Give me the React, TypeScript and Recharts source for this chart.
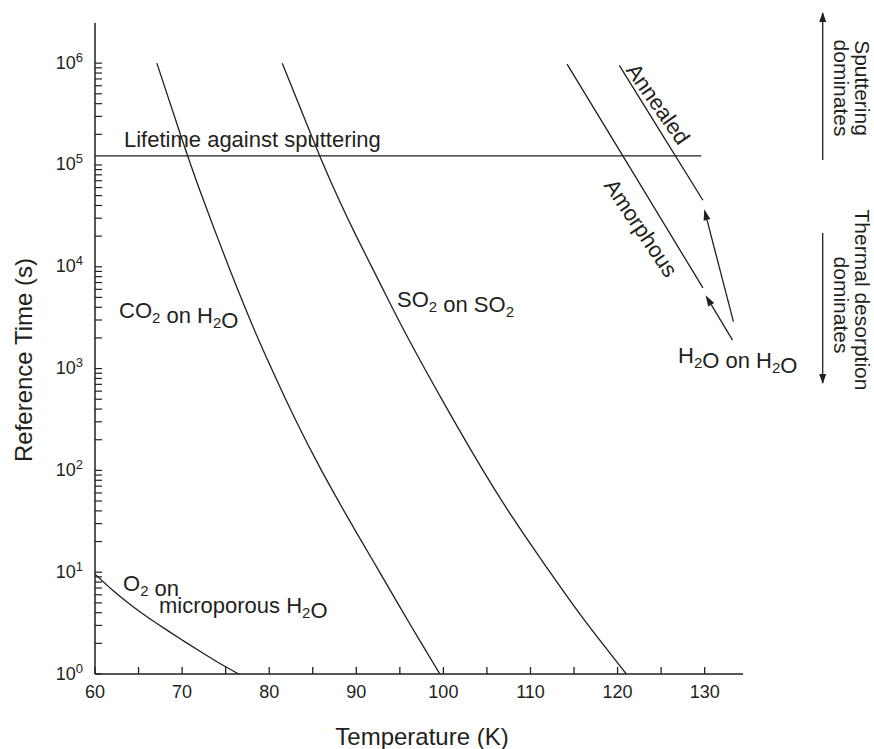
import { LineChart, Line, XAxis, YAxis, ReferenceLine } from 'recharts'

const INK = '#231f20'
const FONT = '"Liberation Sans", Arial, Helvetica, sans-serif'

// temperature (K) / reference time (s)
const o2Temps = [60, 62, 64, 66, 68, 70, 72, 74, 76.5]
const o2Times = [9.55, 6.68, 4.84, 3.63, 2.79, 2.16, 1.68, 1.32, 1.0]

const co2Temps = [67.1, 70, 72, 74, 76, 78, 80, 83, 86, 89, 92, 95, 97, 99.6]
const co2Times = [1.0e6, 1.78e5, 5.75e4, 2.0e4, 7.24e3, 2.75e3, 1.12e3, 316, 100, 34.7, 12.6, 4.57, 2.34, 1.0]

const so2Temps = [81.5, 84, 86, 88, 90, 93, 96, 100, 104, 108, 112, 116, 121]
const so2Times = [1.0e6, 2.95e5, 1.12e5, 4.57e4, 2.0e4, 6.17e3, 1.95e3, 468, 120, 33.9, 10.7, 3.55, 1.0]

const amorphousTemps = [114.2, 122, 129.8]
const amorphousTimes = [9.8e5, 7.8e4, 6.2e3]

const annealedTemps = [120.2, 125, 129.8]
const annealedTimes = [9.5e5, 2.07e5, 4.5e4]

const lifetimeTemps = [60, 129.6]
const lifetimeTimes = [1.23e5, 1.23e5]

// H2O on H2O pointer arrows: [from, to] as [temp, time]
const arrowAmorphous = [[133.2, 1905], [130.1, 5250]]
const arrowAnnealed = [[133.3, 2890], [129.95, 36700]]

const xTicks = [60, 65, 70, 75, 80, 85, 90, 95, 100, 105, 110, 115, 120, 125, 130]
const yTicks: number[] = []
for (let n = 0; n < 6; n++) for (let k = 1; k < 10; k++) yTicks.push(k * Math.pow(10, n))
yTicks.push(1e6)

const zip = (ts: number[], vs: number[]) => ts.map((t, i) => ({ t, v: vs[i] }))

const XTick = (p: any) => {
  const v = p.payload.value
  return (
    <g>
      <line x1={p.x} x2={p.x} y1={p.y} y2={p.y - 7} stroke={INK} strokeWidth={1.3} />
      {v % 10 === 0 && (
        <text x={p.x} y={p.y + 24} textAnchor="middle" fontSize={18} fill={INK} fontFamily={FONT}>{v}</text>
      )}
    </g>
  )
}

const YTick = (p: any) => {
  const v = p.payload.value
  const e = Math.round(Math.log10(v))
  const major = Math.abs(Math.pow(10, e) - v) < 1e-6 * v
  return (
    <g>
      <line x1={p.x} x2={p.x + 7} y1={p.y} y2={p.y} stroke={INK} strokeWidth={1.2} />
      {major && (
        <text x={p.x - 12} y={p.y + 5.5} textAnchor="end" fontSize={18} fill={INK} fontFamily={FONT}>
          10<tspan dy={-7} fontSize={13}>{e}</tspan>
        </text>
      )}
    </g>
  )
}

const ArrowShape = (p: any) => {
  const { x1, y1, x2, y2 } = p
  const a = Math.atan2(y2 - y1, x2 - x1)
  const L = 11, W = 3.5
  const bx = x2 - L * Math.cos(a), by = y2 - L * Math.sin(a)
  const px = -Math.sin(a) * W, py = Math.cos(a) * W
  return (
    <g>
      <line x1={x1} y1={y1} x2={bx} y2={by} stroke={INK} strokeWidth={1.3} />
      <polygon points={`${x2},${y2} ${bx + px},${by + py} ${bx - px},${by - py}`} fill={INK} />
    </g>
  )
}

const Sub = ({ children }: { children: string }) => (
  <>
    <tspan dy={5} fontSize={15}>{children}</tspan>
    <tspan dy={-5}>{''}</tspan>
  </>
)

export default function App() {
  const W = 874, H = 749
  const series = [
    { key: 'o2', data: zip(o2Temps, o2Times), type: 'natural' },
    { key: 'co2', data: zip(co2Temps, co2Times), type: 'natural' },
    { key: 'so2', data: zip(so2Temps, so2Times), type: 'natural' },
    { key: 'amorphous', data: zip(amorphousTemps, amorphousTimes), type: 'linear' },
    { key: 'annealed', data: zip(annealedTemps, annealedTimes), type: 'linear' },
    { key: 'lifetime', data: zip(lifetimeTemps, lifetimeTimes), type: 'linear' },
  ]
  const txt = { fontFamily: FONT, fill: INK }
  return (
    <div style={{ position: 'absolute', left: 0, top: 0, width: W, height: H, background: '#fff', overflow: 'hidden' }}>
      <LineChart width={W} height={H} margin={{ top: 23, right: 131, bottom: 0, left: 0 }}>
        <XAxis
          type="number"
          dataKey="t"
          domain={[60, 134.4]}
          allowDataOverflow
          ticks={xTicks}
          interval={0}
          height={75}
          tickSize={0}
          tickMargin={0}
          tickLine={false}
          axisLine={{ stroke: INK, strokeWidth: 1.5 }}
          tick={<XTick />}
        />
        <YAxis
          type="number"
          dataKey="v"
          scale="log"
          domain={[1, 2.48e6]}
          allowDataOverflow
          ticks={yTicks}
          interval={0}
          width={95}
          tickSize={0}
          tickMargin={0}
          tickLine={false}
          axisLine={{ stroke: INK, strokeWidth: 1.5 }}
          tick={<YTick />}
        />
        {series.map(s => (
          <Line
            key={s.key}
            data={s.data}
            dataKey="v"
            type={s.type as any}
            stroke={INK}
            strokeWidth={1.3}
            dot={false}
            activeDot={false}
            isAnimationActive={false}
          />
        ))}
        {[arrowAmorphous, arrowAnnealed].map((a, i) => (
          <ReferenceLine
            key={i}
            segment={[{ x: a[0][0], y: a[0][1] }, { x: a[1][0], y: a[1][1] }]}
            ifOverflow="visible"
            shape={ArrowShape}
          />
        ))}
      </LineChart>

      <svg width={W} height={H} style={{ position: 'absolute', left: 0, top: 0, pointerEvents: 'none' }}>
        <defs>
          <marker id="head" viewBox="0 0 10 10" refX="9" refY="5" markerWidth="10" markerHeight="10" markerUnits="userSpaceOnUse" orient="auto">
            <path d="M0,1.5 L10,5 L0,8.5 z" fill={INK} />
          </marker>
        </defs>
        <g {...txt} fontSize={22}>
          <text x={124} y={147}>Lifetime against sputtering</text>
          <text x={119} y={318}>CO<Sub>2</Sub> on H<Sub>2</Sub>O</text>
          <text x={397} y={307}>SO<Sub>2</Sub> on SO<Sub>2</Sub></text>
          <text x={123} y={591}>O<Sub>2</Sub> on</text>
          <text x={159} y={613}>microporous H<Sub>2</Sub>O</text>
          <text x={678} y={363}>H<Sub>2</Sub>O on H<Sub>2</Sub>O</text>
          <text x={658} y={104} textAnchor="middle" dominantBaseline="central" transform="rotate(55 658 104)">Annealed</text>
          <text x={641} y={228} textAnchor="middle" dominantBaseline="central" transform="rotate(56 641 228)">Amorphous</text>
        </g>
        <g {...txt} fontSize={24}>
          <text x={422} y={745} textAnchor="middle">Temperature (K)</text>
          <text x={32} y={360} textAnchor="middle" transform="rotate(-90 32 360)">Reference Time (s)</text>
        </g>
        <g {...txt} fontSize={21}>
          <text x={855} y={88} textAnchor="middle" transform="rotate(90 855 88)">Sputtering</text>
          <text x={834} y={88} textAnchor="middle" transform="rotate(90 834 88)">dominates</text>
          <text x={855} y={300} textAnchor="middle" transform="rotate(90 855 300)">Thermal desorption</text>
          <text x={834} y={305} textAnchor="middle" transform="rotate(90 834 305)">dominates</text>
        </g>
        <line x1={822.7} y1={160} x2={822.7} y2={13} stroke={INK} strokeWidth={1.3} markerEnd="url(#head)" />
        <line x1={822.7} y1={233} x2={822.7} y2={383} stroke={INK} strokeWidth={1.3} markerEnd="url(#head)" />
      </svg>
    </div>
  )
}
